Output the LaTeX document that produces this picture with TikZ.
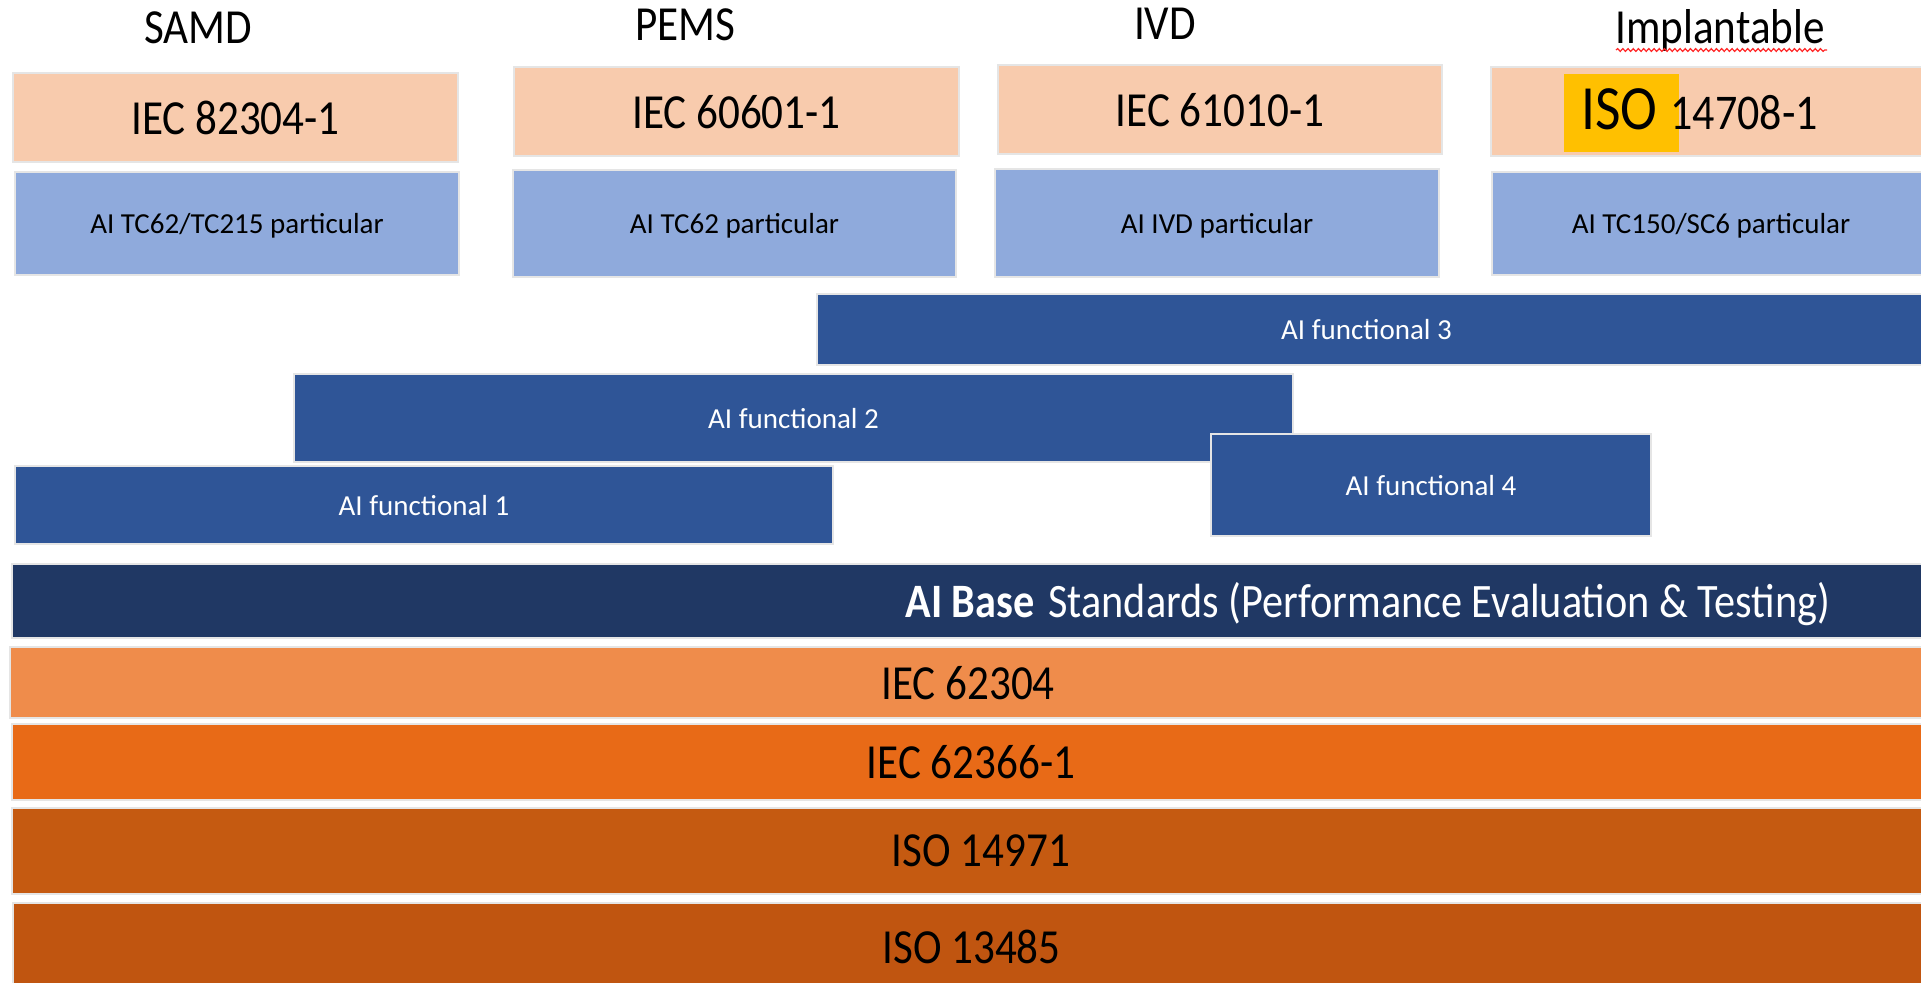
\documentclass[tikz,border=0pt]{standalone}
\usepackage{fontspec}
\setmainfont{Carlito}
\newfontfamily\narrowfont[FakeStretch=0.88]{Carlito}
\usetikzlibrary{decorations.pathmorphing}

\definecolor{peach}{HTML}{F8CBAD}
\definecolor{skyblue}{HTML}{8FAADC}
\definecolor{funcblue}{HTML}{2F5597}
\definecolor{baseblue}{HTML}{203864}
\definecolor{orA}{HTML}{EF8C4B}
\definecolor{orB}{HTML}{E86A17}
\definecolor{orC}{HTML}{C55A11}
\definecolor{orD}{HTML}{C05510}
\definecolor{hilite}{HTML}{FFC000}

% box from (x1,y1) to (x2,y2), in pixel-like units
\newcommand\stdbox[7]{%
  \node[#6, minimum width={(#4-#2)*0.5pt}, minimum height={(#5-#3)*0.5pt}]
    (#1) at ({(#2+#4)/2},{(#3+#5)/2}) {#7};}

\begin{document}
\begin{tikzpicture}[x=0.5pt,y=-0.5pt,
  layer/.style={draw=black!10, line width=0.75pt, inner sep=0pt, outer sep=0pt, text depth=0pt},
  bigtext/.style={font=\narrowfont\fontsize{24.5}{29}\selectfont, text=black},
  smalltext/.style={font=\fontsize{14.5}{17}\selectfont},
  stdlabel/.style={layer, fill=peach, bigtext},
  particular/.style={layer, fill=skyblue, smalltext, text=black},
  functional/.style={layer, fill=funcblue, smalltext, text=white},
  header/.style={bigtext, inner sep=0pt, anchor=base}]
\useasboundingbox (0,0) rectangle (1921,982);

% device categories
\node[header] (samd) at (198,43) {SAMD};
\node[header] (pems) at (685,40) {PEMS};
\node[header] (ivd)  at (1165,39) {IVD};
\node[header] (impl) at (1720,43) {Implantable};
\coordinate (wv1) at (1616,50);
\coordinate (wv2) at (1827,50);
\draw[red!85, line width=0.6pt, decorate,
      decoration={snake, amplitude=0.7pt, segment length=2.6pt}] (wv1) -- (wv2);

% product standards
\stdbox{s1}{13}{73}{458}{162}{stdlabel}{IEC 82304-1}
\stdbox{s2}{514}{67}{959}{156}{stdlabel}{IEC 60601-1}
\stdbox{s3}{998}{65}{1442}{154}{stdlabel}{IEC 61010-1}
\stdbox{s4}{1491}{67}{1930}{156}{stdlabel}{}
\path[fill=hilite] (1564,74) rectangle (1679,152);
\node[inner sep=0pt, anchor=base west, text=black] (s4t) at (1581,129)
  {{\narrowfont\fontsize{31.5}{36}\selectfont ISO}\hspace{6.5pt}{\narrowfont\fontsize{25}{29}\selectfont 14708-1}};

% AI particular standards
\stdbox{p1}{15}{172}{459}{275}{particular}{AI TC62/TC215 particular}
\stdbox{p2}{513}{170}{956}{277}{particular}{AI TC62 particular}
\stdbox{p3}{995}{169}{1439}{277}{particular}{AI IVD particular}
\stdbox{p4}{1492}{172}{1930}{275}{particular}{AI TC150/SC6 particular}

% AI functional standards
\stdbox{f3}{817}{294}{1930}{365}{functional}{\hspace{-7pt}AI functional 3}
\stdbox{f2}{294}{374}{1293}{462}{functional}{AI functional 2}
\stdbox{f1}{15}{466}{833}{544}{functional}{AI functional 1}
\stdbox{f4}{1211}{434}{1651}{536}{functional}{AI functional 4}

% base layers
\stdbox{base}{12}{564}{1930}{638}{layer, fill=baseblue}{}
\node[inner sep=0pt, anchor=base west, text=white,
      font=\narrowfont\fontsize{24}{29}\selectfont] (baset) at (905,617)
  {\textbf{AI Base}\hspace{7pt}Standards (Performance Evaluation \& Testing)};
\stdbox{b1}{10}{647}{1930}{718}{layer, fill=orA, bigtext}{\hspace{-2pt}IEC 62304}
\stdbox{b2}{12}{724}{1930}{800}{layer, fill=orB, bigtext}{IEC 62366-1}
\stdbox{b3}{12}{808}{1930}{894}{layer, fill=orC, bigtext}{\hspace{10pt}ISO 14971}
\stdbox{b4}{13}{903}{1930}{990}{layer, fill=orD, bigtext}{ISO 13485}
\end{tikzpicture}
\end{document}
